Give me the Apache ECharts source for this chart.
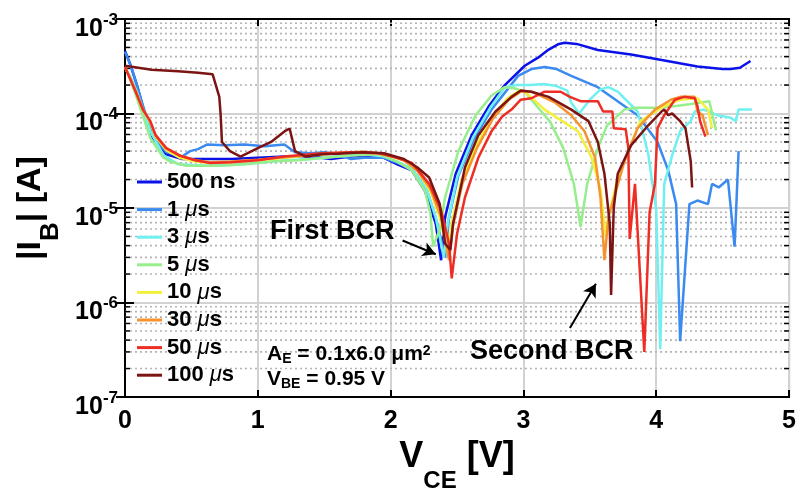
<!DOCTYPE html>
<html>
<head>
<meta charset="utf-8">
<script src="https://cdn.jsdelivr.net/npm/echarts@6/dist/echarts.min.js"></script>
<style>html,body{margin:0;padding:0;background:#fff}#c{width:799px;height:498px}</style>
</head>
<body>
<div id="c"></div>
<script>
// ---- data (V_CE [V], |I_B| [A]) ----
const seriesNames = ['500 ns', '1 μs', '3 μs', '5 μs', '10 μs', '30 μs', '50 μs', '100 μs'];
const seriesColors = ['#0a12e8', '#3a8af0', '#70f0f0', '#96ee8c', '#f2f03c', '#f5932f', '#ee2e24', '#7c1414'];

const s500ns = [[0,4.6e-4],[0.04,3.3e-4],[0.09,2e-4],[0.14,1.1e-4],[0.21,5.5e-5],[0.31,3.7e-5],[0.43,3.3e-5],[0.6,3.3e-5],[0.8,3.3e-5],[1.0,3.4e-5],[1.2,3.5e-5],[1.4,3.5e-5],[1.55,3.3e-5],[1.7,3.5e-5],[1.85,3.6e-5],[1.95,3.4e-5],[2.05,2.9e-5],[2.16,2.5e-5],[2.26,1.5e-5],[2.34,6.8e-6],[2.38,2.8e-6],[2.41,8e-6],[2.49,2.3e-5],[2.61,5.9e-5],[2.74,1.2e-4],[2.86,2e-4],[3.01,3.2e-4],[3.11,3.9e-4],[3.19,4.75e-4],[3.26,5.4e-4],[3.31,5.6e-4],[3.4,5.45e-4],[3.56,4.7e-4],[3.81,4.2e-4],[4.01,3.75e-4],[4.31,3.15e-4],[4.5,2.95e-4],[4.56,2.95e-4],[4.63,3.05e-4],[4.71,3.6e-4]];
const s1us = [[0,4.5e-4],[0.04,3.3e-4],[0.09,2e-4],[0.14,1.15e-4],[0.21,5.8e-5],[0.31,3.9e-5],[0.43,3.5e-5],[0.49,4e-5],[0.55,4.2e-5],[0.62,4.7e-5],[0.75,4.6e-5],[0.9,4.7e-5],[1.05,4.5e-5],[1.2,4.7e-5],[1.28,3.9e-5],[1.4,3.8e-5],[1.5,3.9e-5],[1.6,3.7e-5],[1.7,3.3e-5],[1.8,3.4e-5],[1.95,3.4e-5],[2.05,3e-5],[2.16,2.6e-5],[2.27,1.6e-5],[2.35,7e-6],[2.41,3e-6],[2.44,8e-6],[2.51,2.2e-5],[2.63,5.5e-5],[2.76,1.1e-4],[2.88,1.8e-4],[2.96,2.5e-4],[3.06,2.95e-4],[3.16,3.1e-4],[3.25,2.95e-4],[3.36,2.5e-4],[3.56,1.9e-4],[3.76,1.2e-4],[3.86,9.6e-5],[4.01,5e-5],[4.09,2.5e-5],[4.15,1.1e-5],[4.18,3.9e-7],[4.25,1.1e-5],[4.31,1.2e-5],[4.39,1.1e-5],[4.42,1.8e-5],[4.47,1.65e-5],[4.54,2e-5],[4.59,3.9e-6],[4.62,4e-5]];
const s3us = [[0,3.1e-4],[0.05,2.3e-4],[0.09,1.7e-4],[0.14,1.05e-4],[0.19,6.5e-5],[0.29,3.6e-5],[0.4,2.9e-5],[0.6,2.8e-5],[0.8,2.85e-5],[1.0,3e-5],[1.2,3.2e-5],[1.4,3.3e-5],[1.6,3.5e-5],[1.8,3.7e-5],[1.95,3.5e-5],[2.05,3.1e-5],[2.16,2.6e-5],[2.27,1.6e-5],[2.34,8e-6],[2.40,3e-6],[2.43,7e-6],[2.5,2.1e-5],[2.62,5.6e-5],[2.75,1.15e-4],[2.86,1.9e-4],[2.95,2e-4],[3.05,2e-4],[3.15,2.05e-4],[3.25,1.95e-4],[3.33,1.75e-4],[3.36,1.3e-4],[3.42,1.0e-4],[3.5,1.4e-4],[3.58,1.8e-4],[3.64,1.9e-4],[3.71,1.7e-4],[3.86,1.05e-4],[3.94,3.7e-5],[4.0,9.5e-6],[4.03,3.2e-7],[4.06,1.8e-5],[4.12,3.6e-5],[4.18,6.5e-5],[4.26,8.3e-5],[4.29,1.05e-4],[4.36,1.1e-4],[4.46,9.6e-5],[4.56,9e-5],[4.6,8.3e-5],[4.62,1.1e-4],[4.72,1.1e-4]];
const s5us = [[0,3.1e-4],[0.05,2.1e-4],[0.09,1.45e-4],[0.14,9e-5],[0.19,5.5e-5],[0.29,3.4e-5],[0.34,3.1e-5],[0.46,2.8e-5],[0.7,2.8e-5],[0.9,2.9e-5],[1.1,3.1e-5],[1.3,3.2e-5],[1.5,3.4e-5],[1.7,3.6e-5],[1.91,3.7e-5],[2.05,3.1e-5],[2.16,2.5e-5],[2.26,1.5e-5],[2.30,8.7e-6],[2.32,3.9e-6],[2.37,5.9e-6],[2.41,1.3e-5],[2.51,4e-5],[2.64,9.6e-5],[2.76,1.55e-4],[2.86,1.9e-4],[2.93,1.85e-4],[3.01,1.7e-4],[3.1,1.2e-4],[3.2,8.2e-5],[3.3,4.3e-5],[3.38,1.8e-5],[3.43,6.3e-6],[3.48,1.8e-5],[3.56,4.3e-5],[3.63,7.5e-5],[3.76,1.1e-4],[3.86,1.15e-4],[4.0,1.15e-4],[4.15,1.2e-4],[4.25,1.25e-4],[4.32,1.3e-4],[4.4,1.35e-4],[4.45,6.6e-5]];
const s10us = [[0,3.1e-4],[0.08,1.7e-4],[0.135,1.1e-4],[0.19,8e-5],[0.23,5.7e-5],[0.31,4.1e-5],[0.41,3.4e-5],[0.53,3.1e-5],[0.64,3e-5],[0.8,3.05e-5],[1.0,3.2e-5],[1.2,3.4e-5],[1.4,3.6e-5],[1.6,3.8e-5],[1.8,3.9e-5],[1.95,3.7e-5],[2.1,3.2e-5],[2.2,2.5e-5],[2.3,1.5e-5],[2.37,8e-6],[2.43,3.3e-6],[2.46,7e-6],[2.53,1.9e-5],[2.64,4.5e-5],[2.76,9e-5],[2.88,1.45e-4],[2.97,1.75e-4],[3.01,1.7e-4],[3.16,1.1e-4],[3.31,8e-5],[3.41,6.5e-5],[3.51,3.5e-5],[3.58,1.6e-5],[3.61,6.8e-6],[3.62,5e-6],[3.64,8e-6],[3.71,2.1e-5],[3.79,4e-5],[3.88,8.3e-5],[4.06,1.2e-4],[4.18,1.4e-4],[4.31,1.45e-4],[4.39,1.1e-4],[4.42,7e-5]];
const s30us = [[0,3.1e-4],[0.08,1.75e-4],[0.135,1.1e-4],[0.19,8.3e-5],[0.23,5.9e-5],[0.31,4.3e-5],[0.41,3.6e-5],[0.53,3.2e-5],[0.64,3.05e-5],[0.8,3.1e-5],[1.0,3.25e-5],[1.2,3.45e-5],[1.4,3.65e-5],[1.6,3.8e-5],[1.8,3.95e-5],[1.95,3.75e-5],[2.1,3.2e-5],[2.2,2.5e-5],[2.3,1.6e-5],[2.38,8e-6],[2.44,2.8e-6],[2.47,6.5e-6],[2.54,1.8e-5],[2.65,4.3e-5],[2.77,8.8e-5],[2.89,1.4e-4],[2.98,1.7e-4],[3.06,1.7e-4],[3.24,1.3e-4],[3.36,9.6e-5],[3.46,6.5e-5],[3.54,3.4e-5],[3.58,1.3e-5],[3.61,2.8e-6],[3.64,8e-6],[3.69,1.4e-5],[3.76,3.1e-5],[3.86,7e-5],[3.99,1.1e-4],[4.11,1.4e-4],[4.18,1.5e-4],[4.29,1.5e-4],[4.31,1.05e-4],[4.35,9.6e-5],[4.36,8.3e-5],[4.39,5.9e-5]];
const s50us = [[0,3.1e-4],[0.08,1.7e-4],[0.135,1.1e-4],[0.19,8.3e-5],[0.23,5.9e-5],[0.31,4.3e-5],[0.41,3.6e-5],[0.53,3.2e-5],[0.64,3e-5],[0.8,3.05e-5],[1.0,3.2e-5],[1.2,3.5e-5],[1.48,3.8e-5],[1.7,3.9e-5],[1.91,3.8e-5],[2.05,3.4e-5],[2.16,3e-5],[2.29,1.8e-5],[2.38,9.5e-6],[2.44,4.2e-6],[2.46,1.8e-6],[2.50,5.3e-6],[2.56,1.3e-5],[2.66,3.4e-5],[2.76,6.5e-5],[2.84,9.3e-5],[2.91,1.1e-4],[2.98,1.4e-4],[3.06,1.45e-4],[3.16,1.7e-4],[3.28,1.7e-4],[3.35,1.5e-4],[3.43,1.35e-4],[3.56,1.35e-4],[3.6,1.05e-4],[3.67,1.05e-4],[3.68,7e-5],[3.77,6.8e-5],[3.79,4.3e-5],[3.80,4.7e-6],[3.84,1.8e-5],[3.91,3e-7],[3.95,9e-6],[3.99,1.8e-5],[4.01,7e-5],[4.06,9.6e-5],[4.14,1.4e-4],[4.21,1.5e-4],[4.29,1.45e-4],[4.31,1.2e-4],[4.33,8.3e-5],[4.37,5.7e-5]];
const s100us = [[0,3.2e-4],[0.2,2.9e-4],[0.4,2.8e-4],[0.55,2.7e-4],[0.66,2.6e-4],[0.71,1.5e-4],[0.72,9.8e-5],[0.73,5e-5],[0.79,4e-5],[0.87,3.5e-5],[1.0,4.3e-5],[1.1,5e-5],[1.21,6.6e-5],[1.24,6.9e-5],[1.28,4e-5],[1.36,3.5e-5],[1.48,3.7e-5],[1.6,3.75e-5],[1.8,3.9e-5],[1.95,3.8e-5],[2.1,3.3e-5],[2.2,2.7e-5],[2.29,2.1e-5],[2.37,1.1e-5],[2.41,4.2e-6],[2.45,3.6e-6],[2.47,6.8e-6],[2.56,2.7e-5],[2.66,5.9e-5],[2.79,1.05e-4],[2.91,1.5e-4],[2.98,1.75e-4],[3.06,1.7e-4],[3.19,1.5e-4],[3.36,1.1e-4],[3.49,8.3e-5],[3.56,5e-5],[3.61,2.3e-5],[3.65,6.8e-6],[3.66,1.2e-6],[3.68,1e-5],[3.71,2.3e-5],[3.81,4.6e-5],[3.94,7.5e-5],[4.04,1.05e-4],[4.06,1.1e-4],[4.09,9.6e-5],[4.12,1e-4],[4.18,8.3e-5],[4.22,7e-5],[4.26,3.1e-5],[4.27,1.65e-5]];
const seriesData = [s500ns, s1us, s3us, s5us, s10us, s30us, s50us, s100us];

const xTicks = [0, 1, 2, 3, 4, 5];
const minorYTicks = [];
[-7, -6, -5, -4].forEach(function (e) { for (let m = 2; m <= 9; m++) minorYTicks.push(m * Math.pow(10, e)); });

// ---- chart ----
const FONT = "'Liberation Sans', Arial, Helvetica, sans-serif";
const chart = echarts.init(document.getElementById('c'), null, { renderer: 'canvas' });

const ylabelRich = {
  b: { fontSize: 25, fontWeight: 'bold', lineHeight: 25, padding: [10, 0, 0, 0], verticalAlign: 'top', color: '#000', fontFamily: FONT },
  s: { fontSize: 17, fontWeight: 'bold', lineHeight: 17, padding: [5, 0, 0, 0], verticalAlign: 'top', color: '#000', fontFamily: FONT }
};

const lineSeries = seriesNames.map(function (n, i) {
  return {
    name: n, type: 'line', data: seriesData[i], showSymbol: false, symbol: 'none',
    lineStyle: { color: seriesColors[i], width: 2.5 }, itemStyle: { color: seriesColors[i] },
    z: 3 + i, silent: true, clip: true, smooth: false
  };
});

const minorSeries = {
  type: 'custom', name: 'minor', silent: true, z: 1,
  data: minorYTicks.map(function (v) { return [0, v]; }),
  encode: { x: 0, y: 1 },
  renderItem: function (params, api) {
    const p = api.coord([0, api.value(1)]);
    const cs = params.coordSys;
    return {
      type: 'group', children: [
        { type: 'line', shape: { x1: cs.x, y1: p[1], x2: cs.x + cs.width, y2: p[1] }, style: { stroke: '#b4b4b4', lineWidth: 1.6, lineDash: [2, 3] } },
        { type: 'line', shape: { x1: cs.x, y1: p[1], x2: cs.x + 5, y2: p[1] }, style: { stroke: '#000', lineWidth: 1.5 } },
        { type: 'line', shape: { x1: cs.x + cs.width - 5, y1: p[1], x2: cs.x + cs.width, y2: p[1] }, style: { stroke: '#000', lineWidth: 1.5 } }
      ]
    };
  }
};

const arrowSeries = {
  type: 'line', name: 'arrows', data: [], silent: true, z: 20,
  markLine: {
    silent: true, symbol: ['none', 'arrow'], symbolSize: [11, 13],
    lineStyle: { color: '#000', width: 2, type: 'solid' }, label: { show: false },
    data: [
      [{ coord: [2.09, 4.53e-6] }, { coord: [2.34, 3.24e-6] }],
      [{ coord: [3.35, 5.36e-7] }, { coord: [3.546, 1.58e-6] }]
    ]
  }
};

const option = {
  animation: false,
  backgroundColor: '#fff',
  grid: { left: 125, right: 7, top: 19, bottom: 95, show: true, borderColor: '#000', borderWidth: 2, backgroundColor: 'transparent', containLabel: false },
  legend: {
    data: seriesNames, orient: 'vertical', left: 137, top: 171, padding: 0, itemWidth: 25, itemHeight: 3, itemGap: 5.6,
    icon: 'rect', selectedMode: false,
    textStyle: { fontSize: 22, fontWeight: 'bold', color: '#000', fontFamily: FONT, lineHeight: 22,
      rich: { i: { fontSize: 22, fontStyle: 'italic', fontWeight: 'normal', color: '#000', fontFamily: FONT, lineHeight: 22 } } },
    formatter: function (name) { return name.replace('μ', '{i|μ}'); }
  },
  xAxis: [
    {
      type: 'value', min: 0, max: 5, interval: 1, position: 'bottom',
      axisLine: { show: true, lineStyle: { color: '#000', width: 2 } },
      axisTick: { show: true, inside: true, length: 7, lineStyle: { color: '#000', width: 2 } },
      axisLabel: { show: true, fontSize: 25, fontWeight: 'bold', color: '#000', fontFamily: FONT, margin: 12, lineHeight: 25,
        formatter: function (v) { return xTicks.indexOf(v) >= 0 ? String(v) : ''; } },
      splitLine: { show: true, lineStyle: { color: '#d2d2d2', width: 2 } },
      name: '{v|V}{sub|CE}{v| [V]}', nameLocation: 'middle', nameGap: 42,
      nameTextStyle: { rich: {
        v: { fontSize: 36, fontWeight: 'bold', lineHeight: 36, verticalAlign: 'top', color: '#000', fontFamily: FONT },
        sub: { fontSize: 24, fontWeight: 'bold', lineHeight: 24, padding: [30, 0, 0, 0], verticalAlign: 'top', color: '#000', fontFamily: FONT }
      } }
    },
    {
      type: 'value', min: 0, max: 5, interval: 1, position: 'top',
      axisLine: { show: true, lineStyle: { color: '#000', width: 2 } },
      axisTick: { show: true, inside: true, length: 7, lineStyle: { color: '#000', width: 2 } },
      axisLabel: { show: false }, splitLine: { show: false }
    }
  ],
  yAxis: [
    {
      type: 'log', logBase: 10, min: 1e-7, max: 1e-3, position: 'left',
      axisLine: { show: true, lineStyle: { color: '#000', width: 2 } },
      axisTick: { show: true, inside: true, length: 9, lineStyle: { color: '#000', width: 2 } },
      axisLabel: { show: true, showMinLabel: true, showMaxLabel: true, margin: 7, rich: ylabelRich,
        formatter: function (v) { return '{b|10}{s|' + Math.round(Math.log10(v)) + '}'; } },
      splitLine: { show: true, lineStyle: { color: '#d2d2d2', width: 2 } },
      minorTick: { show: false }, minorSplitLine: { show: false },
      name: '{t||I}{sub|B}{t|| [A]}', nameLocation: 'middle', nameGap: 60, nameRotate: 90,
      nameTextStyle: { rich: {
        t: { fontSize: 34, fontWeight: 'bold', lineHeight: 34, verticalAlign: 'top', color: '#000', fontFamily: FONT },
        sub: { fontSize: 26, fontWeight: 'bold', lineHeight: 26, padding: [25, 0, 0, 0], verticalAlign: 'top', color: '#000', fontFamily: FONT }
      } }
    },
    {
      type: 'log', logBase: 10, min: 1e-7, max: 1e-3, position: 'right',
      axisLine: { show: true, lineStyle: { color: '#000', width: 2 } },
      axisTick: { show: true, inside: true, length: 9, lineStyle: { color: '#000', width: 2 } },
      axisLabel: { show: false }, splitLine: { show: false }
    }
  ],
  graphic: [
    { type: 'text', left: 270, top: 218, z: 30, style: { text: 'First BCR', fontSize: 27, fontWeight: 'bold', fill: '#000', fontFamily: FONT } },
    { type: 'text', left: 470, top: 338, z: 30, style: { text: 'Second BCR', fontSize: 27, fontWeight: 'bold', fill: '#000', fontFamily: FONT } },
    { type: 'text', left: 267, top: 344, z: 30, style: { text: '{a|A}{s|E}{a| = 0.1x6.0 μm}{p|2}',
      rich: { a: { fontSize: 21, fontWeight: 'bold', lineHeight: 21, verticalAlign: 'top', fill: '#000', fontFamily: FONT },
              s: { fontSize: 14, fontWeight: 'bold', lineHeight: 14, padding: [8, 0, 0, 0], verticalAlign: 'top', fill: '#000', fontFamily: FONT },
              p: { fontSize: 14, fontWeight: 'bold', lineHeight: 14, padding: [0, 0, 0, 0], verticalAlign: 'top', fill: '#000', fontFamily: FONT } } } },
    { type: 'text', left: 267, top: 369, z: 30, style: { text: '{a|V}{s|BE}{a| = 0.95 V}',
      rich: { a: { fontSize: 21, fontWeight: 'bold', lineHeight: 21, verticalAlign: 'top', fill: '#000', fontFamily: FONT },
              s: { fontSize: 14, fontWeight: 'bold', lineHeight: 14, padding: [8, 0, 0, 0], verticalAlign: 'top', fill: '#000', fontFamily: FONT } } } }
  ],
  series: [minorSeries].concat(lineSeries).concat([arrowSeries])
};
chart.setOption(option);
</script>
</body>
</html>
